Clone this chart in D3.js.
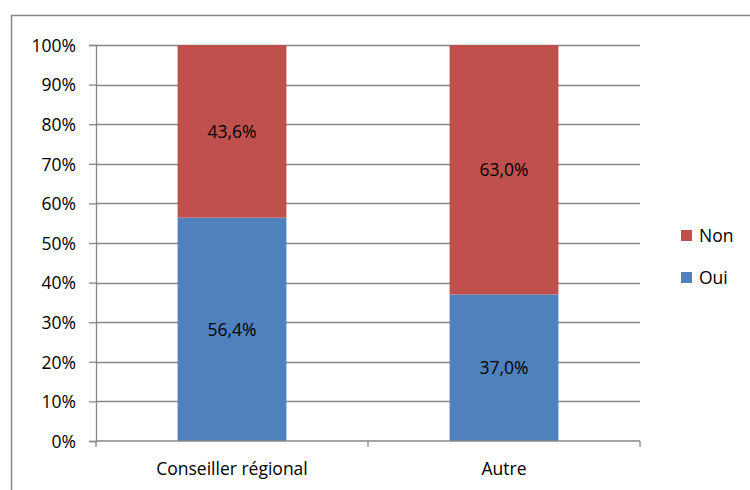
<!DOCTYPE html>
<html>
<head>
<meta charset="utf-8">
<script src="https://cdn.jsdelivr.net/npm/d3@7"></script>
<style>
  body { margin: 0; background: #fff; }
  svg text { font-family: "Open Sans", "Noto Sans", sans-serif; fill: #000; }
</style>
</head>
<body>
<div id="chart"></div>
<script>
(function(){
    // data
    var categories = ['Conseiller régional', 'Autre'];
    var seriesNames = ['Oui', 'Non'];
    var ouiValues = [56.4, 37.0];
    var nonValues = [43.6, 63.0];
    var yTicks = [0, 10, 20, 30, 40, 50, 60, 70, 80, 90, 100];

    var COLORS = { Oui: '#4F81BD', Non: '#C0504D' };

    var WIDTH  = 750,
        HEIGHT = 490,
        PLOT_LEFT   = 96,
        PLOT_RIGHT  = 640,
        PLOT_TOP    = 45,
        PLOT_BOTTOM = 441,
        GRID = '#868686',
        FONT = 17.5;

    var svg = d3.select('#chart').append('svg')
        .attr('width', WIDTH)
        .attr('height', HEIGHT);

    // chart border
    svg.append('rect')
        .attr('x', 11.5).attr('y', 15.5)
        .attr('width', 760).attr('height', 500)
        .attr('fill', 'none')
        .attr('stroke', '#878787')
        .attr('stroke-width', 1.5);

    var x = d3.scaleBand()
        .domain(categories)
        .range([PLOT_LEFT, PLOT_RIGHT])
        .paddingInner(0.6)
        .paddingOuter(0.3);

    var xOuter = d3.scaleBand()
        .domain(categories)
        .range([PLOT_LEFT, PLOT_RIGHT]);

    var y = d3.scaleLinear()
        .domain([0, 100])
        .range([PLOT_BOTTOM, PLOT_TOP]);

    // gridlines
    svg.append('g').selectAll('line')
        .data(yTicks.filter(function(d){ return d > 0; }))
        .enter().append('line')
        .attr('x1', PLOT_LEFT).attr('x2', PLOT_RIGHT)
        .attr('y1', function(d){ return Math.round(y(d)) + 0.5; })
        .attr('y2', function(d){ return Math.round(y(d)) + 0.5; })
        .attr('stroke', GRID)
        .attr('stroke-width', 1.3);

    // stacked data
    var rows = categories.map(function(c, i){
        return { cat: c, Oui: ouiValues[i], Non: nonValues[i] };
    });
    var stack = d3.stack().keys(seriesNames)(rows);

    var layers = svg.append('g').selectAll('g')
        .data(stack)
        .enter().append('g')
        .attr('fill', function(d){ return COLORS[d.key]; });

    layers.selectAll('rect')
        .data(function(d){ return d; })
        .enter().append('rect')
        .attr('x', function(d){ return x(d.data.cat); })
        .attr('width', x.bandwidth())
        .attr('y', function(d){ return y(d[1]); })
        .attr('height', function(d){ return y(d[0]) - y(d[1]); });

    // data labels
    stack.forEach(function(layer){
        layer.forEach(function(d){
            var v = d[1] - d[0];
            svg.append('text')
                .attr('x', x(d.data.cat) + x.bandwidth() / 2)
                .attr('y', (y(d[0]) + y(d[1])) / 2 + 6.5)
                .attr('text-anchor', 'middle')
                .style('font-size', FONT + 'px')
                .text(v.toFixed(1).replace('.', ',') + '%');
        });
    });

    // y axis
    var yAxis = d3.axisLeft(y)
        .tickValues(yTicks)
        .tickSize(7)
        .tickPadding(13)
        .tickFormat(function(d){ return d + '%'; });

    var gy = svg.append('g')
        .attr('transform', 'translate(' + PLOT_LEFT + ',0)')
        .call(yAxis);
    gy.select('.domain').attr('stroke', GRID).attr('stroke-width', 1.3);
    gy.selectAll('.tick line').attr('stroke', GRID).attr('stroke-width', 1.3);
    gy.selectAll('.tick text')
        .style('font-size', FONT + 'px')
        .attr('font-family', null)
        .attr('dy', '0.36em');

    // x axis
    var gx = svg.append('g')
        .attr('transform', 'translate(0,' + PLOT_BOTTOM + ')');
    gx.append('line')
        .attr('x1', PLOT_LEFT).attr('x2', PLOT_RIGHT)
        .attr('stroke', GRID).attr('stroke-width', 1.3);
    var boundaries = categories.map(function(c){ return xOuter(c); }).concat([PLOT_RIGHT]);
    gx.selectAll('line.tick')
        .data(boundaries)
        .enter().append('line')
        .attr('class', 'tick')
        .attr('x1', function(d){ return d; }).attr('x2', function(d){ return d; })
        .attr('y1', 0).attr('y2', 6)
        .attr('stroke', GRID).attr('stroke-width', 1.3);
    gx.selectAll('text')
        .data(categories)
        .enter().append('text')
        .attr('x', function(d){ return xOuter(d) + xOuter.bandwidth() / 2; })
        .attr('y', 34)
        .attr('text-anchor', 'middle')
        .style('font-size', FONT + 'px')
        .text(function(d){ return d; });

    // legend
    var legendItems = ['Non', 'Oui'];
    var legend = svg.append('g').selectAll('g')
        .data(legendItems)
        .enter().append('g')
        .attr('transform', function(d, i){ return 'translate(681,' + (230 + i * 42) + ')'; });
    legend.append('rect')
        .attr('width', 11).attr('height', 11)
        .attr('fill', function(d){ return COLORS[d]; });
    legend.append('text')
        .attr('x', 18).attr('y', 12)
        .style('font-size', FONT + 'px')
        .text(function(d){ return d; });
})();
</script>
</body>
</html>
